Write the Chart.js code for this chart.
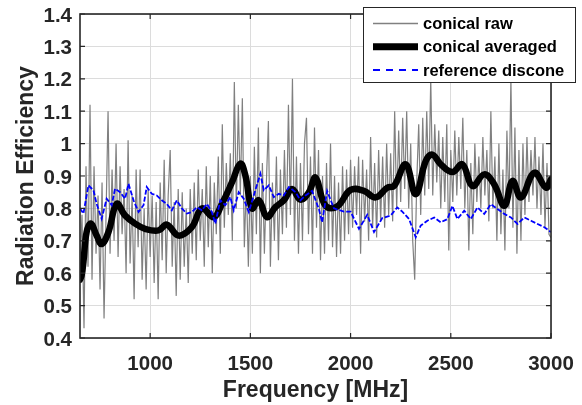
<!DOCTYPE html>
<html>
<head>
<meta charset="utf-8">
<script src="https://cdn.jsdelivr.net/npm/chart.js@4.4.0/dist/chart.umd.min.js"></script>
<style>
  html, body { margin: 0; padding: 0; background: #ffffff; }
  #wrap { width: 582px; height: 405px; }
</style>
</head>
<body>
<div id="wrap"><canvas id="c" width="582" height="405"></canvas></div>
<script>
// ---------------- DATA ----------------
const xTicks = [1000, 1500, 2000, 2500, 3000];
const xTickLabels = ['1000', '1500', '2000', '2500', '3000'];
const yTicks = [0.4, 0.5, 0.6, 0.7, 0.8, 0.9, 1.0, 1.1, 1.2, 1.3, 1.4];
const yTickLabels = ['0.4','0.5','0.6','0.7','0.8','0.9','1','1.1','1.2','1.3','1.4'];

// conical raw: samples every 10 MHz from 650 MHz
const rawStartMHz = 650;
const rawStepMHz = 10;
const rawValues = [
  0.62,0.78,0.43,0.93,0.62,1.12,0.58,0.93,0.66,0.84,
  0.55,0.88,0.46,0.78,1.10,0.66,0.92,0.70,1.00,0.65,
  0.93,0.72,0.86,0.60,1.01,0.63,0.84,0.52,0.92,0.68,
  0.92,0.58,0.80,0.55,0.86,0.65,0.84,0.57,0.82,0.52,
  0.88,0.64,0.95,0.60,0.84,0.98,0.62,0.82,0.53,0.86,
  0.58,0.85,0.62,0.80,0.57,0.86,0.66,0.88,0.64,0.92,
  0.70,0.86,0.62,0.93,0.68,0.90,0.60,0.88,0.72,0.96,
  0.66,1.06,0.74,0.94,0.78,0.97,0.70,1.19,0.80,1.12,
  0.84,1.14,0.68,0.88,0.62,0.90,0.66,0.99,0.72,1.05,
  0.60,0.94,0.66,0.88,1.07,0.62,0.88,0.70,0.96,0.64,
  0.92,0.72,0.98,0.74,1.12,0.78,1.20,0.70,0.96,0.66,
  0.94,0.70,1.00,1.08,0.72,0.96,0.66,1.05,0.74,0.98,
  0.64,0.90,0.66,0.94,0.70,1.00,0.68,0.90,0.65,0.88,
  0.66,0.93,0.70,0.92,0.72,0.95,0.74,0.93,0.78,0.96,
  0.66,0.95,0.76,0.92,0.70,1.02,0.74,0.94,0.71,0.98,
  0.76,0.96,0.74,1.00,0.78,0.97,0.76,1.10,0.80,1.04,
  0.82,1.08,0.86,1.10,0.80,1.00,0.70,0.58,0.88,1.06,
  0.78,1.08,0.84,1.10,0.86,1.20,0.84,1.06,0.88,1.04,
  0.80,1.02,0.82,1.06,0.67,0.98,0.82,1.04,0.84,1.02,
  0.86,1.08,0.80,0.98,0.67,0.94,0.72,1.00,0.82,0.96,
  0.80,1.02,0.84,0.98,0.76,1.10,0.80,0.96,0.70,1.00,
  0.72,0.92,0.67,1.04,0.80,1.20,0.74,1.05,0.66,0.98,
  0.70,1.00,0.78,1.02,0.82,0.98,0.84,1.02,0.80,0.96,
  0.78,1.00,0.74,0.94,0.72,0.71
];

// conical averaged
const avgFreq = [650,658,667,683,705,733,758,792,833,875,925,975,1042,1083,1142,1208,1258,1317,1358,1408,1450,1475,1508,1542,1583,1625,1667,1708,1750,1792,1825,1875,1933,2000,2067,2125,2183,2217,2275,2325,2375,2408,2450,2508,2558,2608,2667,2717,2767,2808,2850,2917,2975,3000];
const avgValues = [0.58,0.593,0.634,0.727,0.753,0.716,0.69,0.727,0.814,0.778,0.753,0.737,0.732,0.75,0.716,0.742,0.80,0.773,0.814,0.88,0.938,0.902,0.80,0.825,0.773,0.804,0.825,0.86,0.827,0.85,0.895,0.808,0.806,0.857,0.854,0.834,0.864,0.869,0.936,0.844,0.946,0.966,0.936,0.912,0.936,0.869,0.905,0.874,0.808,0.885,0.834,0.91,0.864,0.89];

// reference discone
const refFreq = [650,667,692,717,733,758,783,808,825,850,875,892,917,942,967,983,1008,1033,1058,1083,1108,1133,1158,1183,1208,1233,1258,1283,1308,1325,1350,1375,1400,1417,1442,1467,1492,1517,1550,1567,1592,1617,1642,1667,1692,1725,1750,1775,1808,1842,1858,1883,1917,1967,2000,2042,2083,2117,2158,2200,2233,2258,2292,2325,2350,2383,2417,2450,2483,2508,2533,2567,2600,2633,2667,2700,2733,2767,2800,2833,2867,2900,2933,2967,3000];
const refValues = [0.80,0.784,0.871,0.856,0.814,0.768,0.83,0.81,0.861,0.85,0.83,0.876,0.825,0.789,0.81,0.866,0.845,0.84,0.825,0.814,0.794,0.825,0.80,0.784,0.789,0.804,0.794,0.814,0.789,0.753,0.825,0.81,0.835,0.794,0.85,0.83,0.789,0.84,0.907,0.856,0.871,0.835,0.845,0.84,0.866,0.85,0.825,0.84,0.854,0.798,0.757,0.854,0.80,0.79,0.79,0.737,0.78,0.727,0.77,0.778,0.803,0.79,0.767,0.711,0.747,0.762,0.772,0.757,0.767,0.808,0.767,0.793,0.767,0.803,0.783,0.813,0.798,0.783,0.772,0.752,0.772,0.762,0.752,0.742,0.727];

const seriesLabels = ['conical raw', 'conical averaged', 'reference discone'];
const xTitle = 'Frequency [MHz]';
const yTitle = 'Radiation Efficiency';

// ---------------- BUILD ----------------
const rawPts = rawValues.map((v, i) => ({ x: rawStartMHz + i * rawStepMHz, y: v }));
const avgPts = avgFreq.map((f, i) => ({ x: f, y: avgValues[i] }));
const refPts = refFreq.map((f, i) => ({ x: f, y: refValues[i] }));

const FONT = "'Liberation Sans', Arial, Helvetica, sans-serif";
const TXT = '#262626';

function labelFor(ticks, labels, v) {
  const i = ticks.findIndex(t => Math.abs(t - v) < 1e-6);
  return i >= 0 ? labels[i] : '';
}

const framePlugin = {
  id: 'frame',
  afterDatasetsDraw(chart) {
    const { ctx, chartArea: a, scales } = chart;
    ctx.save();
    ctx.strokeStyle = TXT;
    ctx.lineWidth = 1.6;
    ctx.strokeRect(a.left, a.top, a.right - a.left, a.bottom - a.top);
    const L = 5;
    ctx.lineWidth = 1.2;
    ctx.beginPath();
    xTicks.forEach(v => {
      const px = scales.x.getPixelForValue(v);
      ctx.moveTo(px, a.bottom); ctx.lineTo(px, a.bottom - L);
      ctx.moveTo(px, a.top); ctx.lineTo(px, a.top + L);
    });
    yTicks.forEach(v => {
      const py = scales.y.getPixelForValue(v);
      ctx.moveTo(a.left, py); ctx.lineTo(a.left + L, py);
      ctx.moveTo(a.right, py); ctx.lineTo(a.right - L, py);
    });
    ctx.stroke();
    ctx.restore();
  }
};

const legendPlugin = {
  id: 'boxLegend',
  afterDraw(chart) {
    const { ctx } = chart;
    const bx = 363, by = 7, bw = 212, bh = 75;
    ctx.save();
    ctx.fillStyle = '#ffffff';
    ctx.fillRect(bx, by, bw, bh);
    ctx.strokeStyle = '#262626';
    ctx.lineWidth = 1;
    ctx.strokeRect(bx + 0.5, by + 0.5, bw, bh);
    [0, 1, 2].forEach((di, r) => {
      const ds = chart.data.datasets[di];
      const cy = by + 16.5 + r * 23.3;
      ctx.beginPath();
      ctx.strokeStyle = ds.borderColor;
      ctx.lineWidth = ds.legendWidth || ds.borderWidth;
      ctx.setLineDash(ds.legendDash || []);
      ctx.moveTo(373, cy); ctx.lineTo(418, cy);
      ctx.stroke();
      ctx.setLineDash([]);
      ctx.fillStyle = '#000000';
      ctx.font = 'bold 16.5px ' + FONT;
      ctx.textBaseline = 'middle';
      ctx.textAlign = 'left';
      ctx.fillText(ds.label, 423, cy + 1);
    });
    ctx.restore();
  }
};

new Chart(document.getElementById('c'), {
  type: 'line',
  data: {
    datasets: [
      { label: seriesLabels[0], data: rawPts, borderColor: '#808080', borderWidth: 1.2, legendWidth: 1.5, pointRadius: 0, tension: 0, order: 3 },
      { label: seriesLabels[1], data: avgPts, borderColor: '#000000', borderWidth: 6.5, legendWidth: 7, pointRadius: 0, tension: 0.4, order: 2, borderJoinStyle: 'round', borderCapStyle: 'round' },
      { label: seriesLabels[2], data: refPts, borderColor: '#0000ff', borderWidth: 1.8, borderDash: [5, 2], legendDash: [7, 6], legendWidth: 2, pointRadius: 0, tension: 0, order: 1 }
    ]
  },
  options: {
    responsive: false,
    animation: false,
    devicePixelRatio: 1,
    layout: { padding: { left: 0, right: 31, top: 14, bottom: 0 } },
    plugins: { legend: { display: false }, tooltip: { enabled: false } },
    scales: {
      x: {
        type: 'linear',
        min: 650, max: 3000,
        afterBuildTicks: (ax) => { ax.ticks = xTicks.map(v => ({ value: v })); },
        afterFit: (ax) => { ax.height = 67; ax.paddingLeft = 0; ax.paddingRight = 0; },
        grid: { color: '#dcdcdc', lineWidth: 1, drawTicks: false },
        border: { display: false },
        ticks: { color: TXT, padding: 14, maxRotation: 0, font: { family: FONT, size: 20.5, weight: 'bold' },
                 callback: (v) => labelFor(xTicks, xTickLabels, v) },
        title: { display: true, text: xTitle, color: TXT, padding: { top: 0, bottom: 1 }, font: { family: FONT, size: 23, weight: 'bold' } }
      },
      y: {
        type: 'linear',
        min: 0.4, max: 1.4,
        afterBuildTicks: (ax) => { ax.ticks = yTicks.map(v => ({ value: v })); },
        afterFit: (ax) => { ax.width = 80; ax.paddingTop = 0; ax.paddingBottom = 0; },
        grid: { color: '#dcdcdc', lineWidth: 1, drawTicks: false },
        border: { display: false },
        ticks: { color: TXT, padding: 8, labelOffset: 2, font: { family: FONT, size: 20.5, weight: 'bold' },
                 callback: (v) => labelFor(yTicks, yTickLabels, v) },
        title: { display: true, text: yTitle, color: TXT, padding: { top: 13, bottom: 0 }, font: { family: FONT, size: 23, weight: 'bold' } }
      }
    }
  },
  plugins: [framePlugin, legendPlugin]
});
</script>
</body>
</html>
